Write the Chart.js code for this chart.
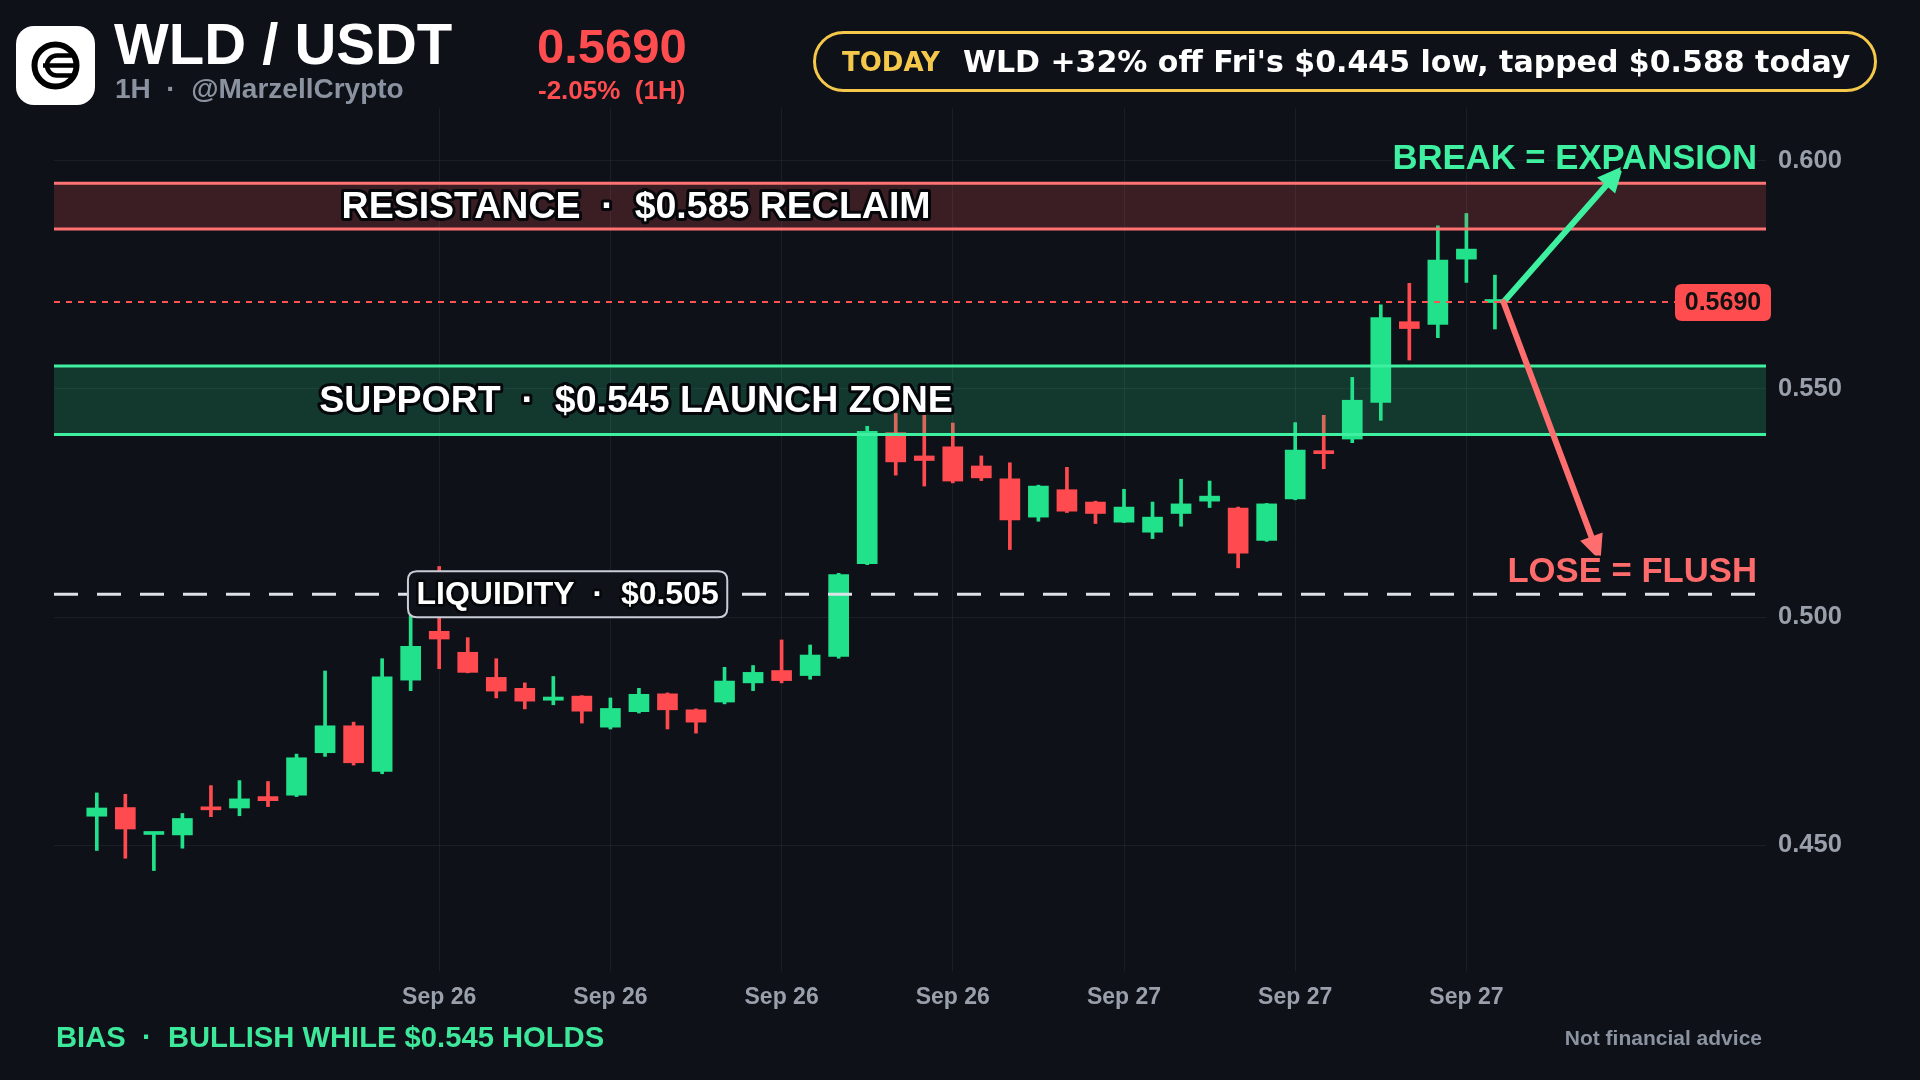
<!DOCTYPE html>
<html>
<head>
<meta charset="utf-8">
<script src="https://cdn.jsdelivr.net/npm/chart.js@4.4.1/dist/chart.umd.min.js"></script>
<style>
html,body{margin:0;padding:0;background:#0e1118;width:1920px;height:1080px;overflow:hidden;}
#wrap{position:relative;width:1920px;height:1080px;background:#0e1118;}
#c{position:absolute;left:0;top:0;}
.t{position:absolute;white-space:nowrap;line-height:1;font-family:"Liberation Sans",Arial,sans-serif;font-weight:700;}
#logo{position:absolute;left:16px;top:26px;width:79px;height:79px;background:#fff;border-radius:18px;}
#title{left:114px;top:15px;font-size:58px;color:#ffffff;}
#sub{left:115px;top:75px;font-size:28px;color:#8b93a1;}
#price{left:537px;top:22px;font-size:49px;color:#ff4d4f;}
#chg{left:538px;top:77px;font-size:26px;color:#ff4d4f;}
#pill{position:absolute;left:813px;top:31px;width:1064px;height:61px;box-sizing:border-box;border:3px solid #f5c84c;border-radius:31px;display:flex;align-items:center;padding-left:26px;white-space:nowrap;font-family:"DejaVu Sans",sans-serif;font-weight:700;}
#pill .today{color:#f5c84c;font-size:26px;margin-right:23px;}
#pill .msg{color:#ffffff;font-size:30px;}
#bias{left:56px;top:1023px;font-size:29.2px;color:#3de89b;}
#nfa{right:158px;top:1027px;font-size:21px;color:#8b93a1;}
</style>
</head>
<body>
<div id="wrap">
<canvas id="c" width="1920" height="1080"></canvas>
<div id="logo"><svg width="79" height="79" viewBox="0 0 79 79">
<circle cx="39.5" cy="39.5" r="21" stroke="#000" stroke-width="6" fill="none"/>
<path d="M 58 29.5 H 41 A 10 10 0 0 0 41 49.5 H 58" stroke="#000" stroke-width="4.5" fill="none"/>
<path d="M 27 39.5 H 59" stroke="#000" stroke-width="4.5" fill="none"/>
</svg></div>
<div class="t" id="title">WLD / USDT</div>
<div class="t" id="sub">1H &nbsp;·&nbsp; @MarzellCrypto</div>
<div class="t" id="price">0.5690</div>
<div class="t" id="chg">-2.05% &nbsp;(1H)</div>
<div id="pill"><span class="today">TODAY</span><span class="msg">WLD +32% off Fri's $0.445 low, tapped $0.588 today</span></div>
<div class="t" id="bias">BIAS &nbsp;·&nbsp; BULLISH WHILE $0.545 HOLDS</div>
<div class="t" id="nfa">Not financial advice</div>
</div>
<script>
// ---- DATA (1H candles, Sep 25 12:00 -> Sep 27 13:00) ----
const opens  = [0.4564,0.4583,0.4524,0.4523,0.4582,0.4582,0.4607,0.4610,0.4703,0.4762,
                0.4662,0.4862,0.4969,0.4923,0.4868,0.4844,0.4818,0.4827,0.4759,0.4793,
                0.4832,0.4797,0.4814,0.4856,0.4883,0.4872,0.4914,0.5117,0.5404,0.5353,
                0.5373,0.5331,0.5303,0.5219,0.5279,0.5252,0.5208,0.5186,0.5227,0.5254,
                0.5239,0.5168,0.5259,0.5360,0.5390,0.5470,0.5647,0.5641,0.5784,0.5689];
const highs  = [0.4615,0.4612,0.4529,0.4570,0.4631,0.4642,0.4640,0.4700,0.4882,0.4770,
                0.4909,0.5005,0.5111,0.4955,0.4909,0.4856,0.4870,0.4828,0.4823,0.4844,
                0.4834,0.4799,0.4890,0.4894,0.4950,0.4939,0.5096,0.5418,0.5446,0.5444,
                0.5425,0.5353,0.5338,0.5289,0.5328,0.5254,0.5280,0.5252,0.5302,0.5298,
                0.5241,0.5249,0.5426,0.5442,0.5525,0.5684,0.5731,0.5857,0.5884,0.5749];
const lows   = [0.4489,0.4472,0.4445,0.4494,0.4563,0.4565,0.4585,0.4607,0.4695,0.4676,
                0.4657,0.4839,0.4887,0.4878,0.4823,0.4799,0.4808,0.4768,0.4755,0.4790,
                0.4755,0.4746,0.4810,0.4839,0.4856,0.4864,0.4910,0.5115,0.5311,0.5287,
                0.5294,0.5299,0.5148,0.5210,0.5229,0.5205,0.5207,0.5172,0.5199,0.5240,
                0.5108,0.5166,0.5257,0.5325,0.5382,0.5431,0.5563,0.5612,0.5733,0.5631];
const closes = [0.4582,0.4536,0.4528,0.4559,0.4578,0.4602,0.4598,0.4692,0.4762,0.4681,
                0.4869,0.4936,0.4952,0.4879,0.4838,0.4816,0.4825,0.4794,0.4800,0.4831,
                0.4797,0.4770,0.4860,0.4879,0.4861,0.4917,0.5093,0.5407,0.5340,0.5343,
                0.5298,0.5305,0.5213,0.5287,0.5232,0.5227,0.5241,0.5219,0.5248,0.5265,
                0.5140,0.5248,0.5366,0.5358,0.5475,0.5656,0.5632,0.5782,0.5806,0.5690];
const tickHours  = [12,18,24,30,36,42,48];
const tickLabels = ['Sep 26','Sep 26','Sep 26','Sep 26','Sep 27','Sep 27','Sep 27'];
const priceTicks = [0.45,0.50,0.55,0.60];
const resistanceZone = [0.585,0.595];
const supportZone    = [0.540,0.555];
const liquidityLevel = 0.505;
const lastPrice      = 0.5690;
const breakTarget    = [53.5,0.5988];
const loseTarget     = [52.7,0.5123];

const GREEN='#21e28b', RED='#ff4b4f';
const cols = closes.map((c,i)=> c>=opens[i]?GREEN:RED);

function rr(ctx,x,y,w,h,r){ctx.beginPath();ctx.moveTo(x+r,y);ctx.lineTo(x+w-r,y);ctx.quadraticCurveTo(x+w,y,x+w,y+r);ctx.lineTo(x+w,y+h-r);ctx.quadraticCurveTo(x+w,y+h,x+w-r,y+h);ctx.lineTo(x+r,y+h);ctx.quadraticCurveTo(x,y+h,x,y+h-r);ctx.lineTo(x,y+r);ctx.quadraticCurveTo(x,y,x+r,y);ctx.closePath();}
function arrow(ctx,x0,y0,x1,y1,color){
  const a=Math.atan2(y1-y0,x1-x0), hl=26, hw=12;
  const bx=x1-hl*Math.cos(a), by=y1-hl*Math.sin(a);
  ctx.strokeStyle=color;ctx.lineWidth=6;ctx.lineCap='round';
  ctx.beginPath();ctx.moveTo(x0,y0);ctx.lineTo(bx,by);ctx.stroke();
  ctx.fillStyle=color;ctx.beginPath();ctx.moveTo(x1,y1);
  ctx.lineTo(bx+hw*Math.sin(a),by-hw*Math.cos(a));
  ctx.lineTo(bx-hw*Math.sin(a),by+hw*Math.cos(a));ctx.closePath();ctx.fill();
}
const FONT='"Liberation Sans", Arial, sans-serif';

const annot={
  id:'annot',
  afterDatasetsDraw(chart){
    const {ctx,chartArea:a,scales:{x,y}}=chart;
    const L=a.left,R=a.right;
    ctx.save();
    // zones
    [[resistanceZone,'rgba(255,92,92,0.19)','#ff7373'],[supportZone,'rgba(40,232,150,0.19)','#3ef0a0']].forEach(([z,f,s])=>{
      const t=y.getPixelForValue(z[1]), b=y.getPixelForValue(z[0]);
      ctx.fillStyle=f;ctx.fillRect(L,t,R-L,b-t);
      ctx.strokeStyle=s;ctx.lineWidth=3;
      ctx.beginPath();ctx.moveTo(L,t);ctx.lineTo(R,t);ctx.moveTo(L,b);ctx.lineTo(R,b);ctx.stroke();
    });
    // liquidity dashed line
    const ly=y.getPixelForValue(liquidityLevel);
    ctx.strokeStyle='#dde1e8';ctx.lineWidth=3;ctx.setLineDash([24,19]);
    ctx.beginPath();ctx.moveTo(L,ly);ctx.lineTo(R,ly);ctx.stroke();
    // last price dashed line
    const py=y.getPixelForValue(lastPrice);
    ctx.strokeStyle='#ff5252';ctx.lineWidth=2;ctx.setLineDash([6,6]);
    ctx.beginPath();ctx.moveTo(L,py);ctx.lineTo(R-90,py);ctx.stroke();
    ctx.setLineDash([]);
    // zone labels
    ctx.font='700 37.5px '+FONT;ctx.textAlign='center';ctx.textBaseline='middle';
    ctx.lineJoin='round';
    [[resistanceZone,'RESISTANCE  ·  $0.585 RECLAIM'],[supportZone,'SUPPORT  ·  $0.545 LAUNCH ZONE']].forEach(([z,txt])=>{
      const cy=(y.getPixelForValue(z[0])+y.getPixelForValue(z[1]))/2+1, cx=x.getPixelForValue(18.9);
      ctx.strokeStyle='#05070a';ctx.lineWidth=6;ctx.strokeText(txt,cx,cy);
      ctx.fillStyle='#ffffff';ctx.fillText(txt,cx,cy);
    });
    // liquidity label box
    ctx.font='700 32px '+FONT;
    const lt='LIQUIDITY  ·  $0.505', lw=ctx.measureText(lt).width+17, lx=x.getPixelForValue(16.5);
    rr(ctx,lx-lw/2,ly-23,lw,46,9);ctx.fillStyle='#0f1219';ctx.fill();
    ctx.strokeStyle='#c9ced6';ctx.lineWidth=2;ctx.stroke();
    ctx.strokeStyle='#05070a';ctx.lineWidth=5;ctx.strokeText(lt,lx,ly+1);
    ctx.fillStyle='#ffffff';ctx.fillText(lt,lx,ly+1);
    // arrows
    const sx=x.getPixelForValue(49.3);
    arrow(ctx,sx,py,x.getPixelForValue(breakTarget[0]),y.getPixelForValue(breakTarget[1]),'#3ef0a0');
    arrow(ctx,sx,py,x.getPixelForValue(loseTarget[0]),y.getPixelForValue(loseTarget[1]),'#ff6e6e');
    // arrow texts
    ctx.font='700 34.7px '+FONT;ctx.textAlign='right';
    ctx.strokeStyle='#0e1118';ctx.lineWidth=5;
    ctx.strokeText('BREAK = EXPANSION',R-9,y.getPixelForValue(0.6)-1);
    ctx.fillStyle='#3ef0a0';ctx.fillText('BREAK = EXPANSION',R-9,y.getPixelForValue(0.6)-1);
    ctx.strokeText('LOSE = FLUSH',R-9,ly-22);
    ctx.fillStyle='#ff6b6b';ctx.fillText('LOSE = FLUSH',R-9,ly-22);
    // price tag
    rr(ctx,R-91,py-18,96,37,7);ctx.fillStyle='#ff4d4f';ctx.fill();
    ctx.font='700 25px '+FONT;ctx.textAlign='center';ctx.fillStyle='#111111';
    ctx.fillText(lastPrice.toFixed(4),R-43,py+1);
    ctx.restore();
  }
};

const bodies = opens.map((o,i)=>({x:i,y:[o,closes[i]]}));
const wicks  = lows.map((l,i)=>({x:i,y:[l,highs[i]]}));

new Chart(document.getElementById('c'),{
  type:'bar',
  data:{datasets:[
    {label:'body',data:bodies,backgroundColor:cols,barThickness:20,minBarLength:3,grouped:false,order:0,borderWidth:0},
    {label:'wick',data:wicks,backgroundColor:cols,barThickness:3,grouped:false,order:1,borderWidth:0}
  ]},
  options:{
    responsive:false,animation:false,
    layout:{padding:{left:54,top:108,right:0,bottom:69}},
    plugins:{legend:{display:false},tooltip:{enabled:false}},
    scales:{
      x:{type:'linear',min:-1.5,max:58.5,offset:false,
         grid:{color:'rgba(255,255,255,0.055)',offset:false,drawTicks:false,lineWidth:1},
         border:{display:false},
         afterBuildTicks:(s)=>{s.ticks=tickHours.map(v=>({value:v}));},
         afterFit:(s)=>{s.height=40;},
         ticks:{autoSkip:false,maxRotation:0,padding:13,color:'#9aa0ab',
           font:{family:FONT,size:23,weight:'700'},
           callback:(v)=>{const k=tickHours.indexOf(v);return k>=0?tickLabels[k]:'';}}},
      y:{type:'linear',position:'right',min:0.4225,max:0.6115,
         grid:{color:'rgba(255,255,255,0.055)',drawTicks:false,lineWidth:1},
         border:{display:false},
         afterBuildTicks:(s)=>{s.ticks=priceTicks.map(v=>({value:v}));},
         afterFit:(s)=>{s.width=154;},
         ticks:{padding:12,color:'#9aa0ab',font:{family:FONT,size:25.5,weight:'700'},
           callback:(v)=>v.toFixed(3)}}
    }
  },
  plugins:[annot]
});
</script>
</body>
</html>
